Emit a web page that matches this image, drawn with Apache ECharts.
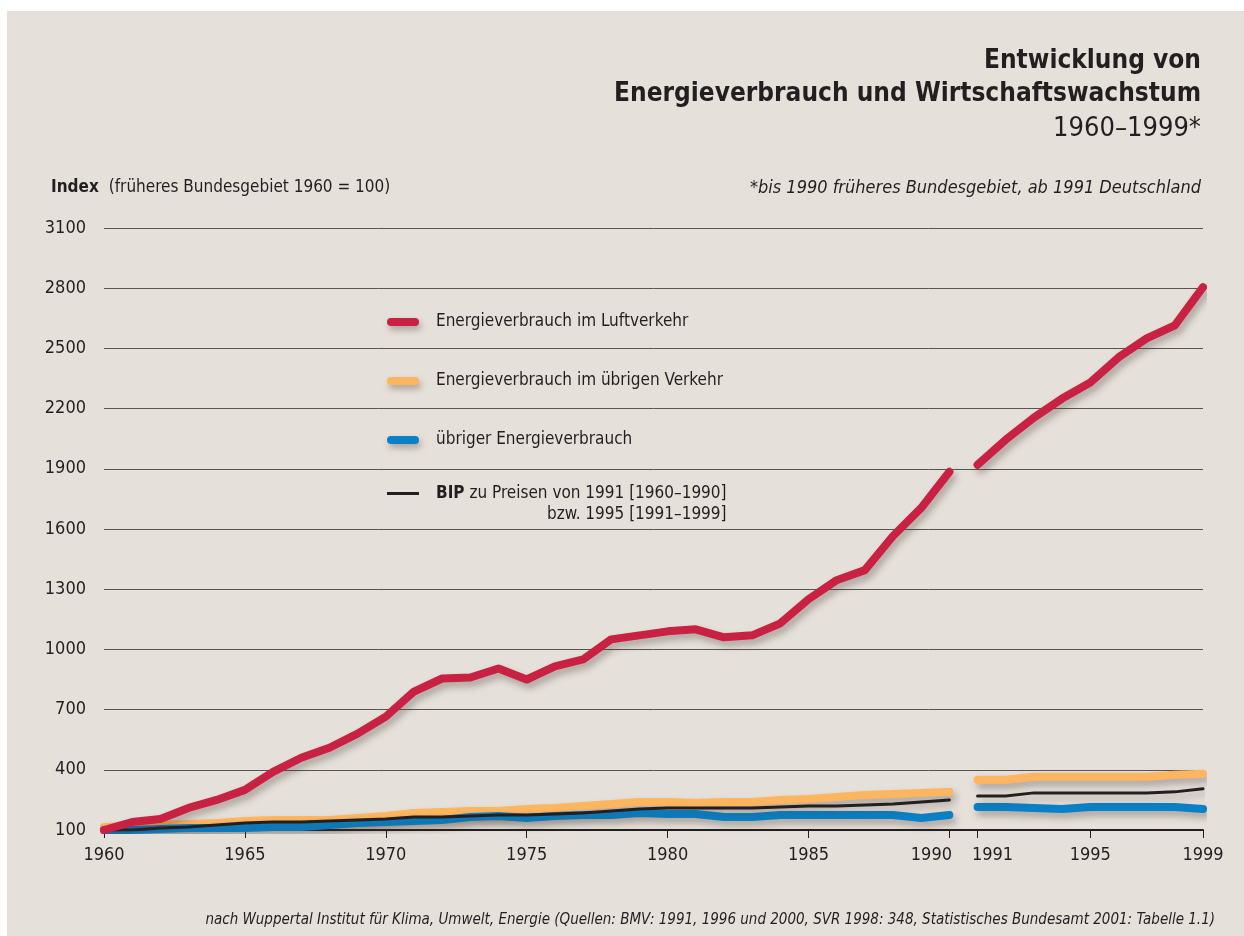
<!DOCTYPE html>
<html>
<head>
<meta charset="utf-8">
<script src="https://cdn.jsdelivr.net/npm/echarts@6/dist/echarts.min.js"></script>
<style>
html, body { margin: 0; padding: 0; background: #ffffff; }
#chart { width: 1244px; height: 936px; }
</style>
</head>
<body>
<div id="chart"></div>
<script>
// Jahre 1960-1990 (früheres Bundesgebiet) und 1991-1999 (Deutschland)
var yearsWest = [1960,1961,1962,1963,1964,1965,1966,1967,1968,1969,1970,1971,1972,1973,1974,1975,1976,1977,1978,1979,1980,1981,1982,1983,1984,1985,1986,1987,1988,1989,1990];
var yearsGer = [1991,1992,1993,1994,1995,1996,1997,1998,1999];

// Energieverbrauch im Luftverkehr
var luftWest = [100,140,155,210,250,300,390,460,510,580,665,790,855,860,905,850,915,950,1050,1070,1090,1100,1060,1070,1130,1250,1345,1395,1565,1705,1885];
var luftGer = [1920,2045,2155,2250,2330,2455,2550,2615,2805];

// Energieverbrauch im übrigen Verkehr
var verkehrWest = [115,120,125,130,135,145,150,150,150,160,170,185,190,195,195,205,210,220,230,240,240,235,240,240,250,255,265,275,280,285,290];
var verkehrGer = [350,350,365,365,365,365,365,375,380];

// übriger Energieverbrauch
var uebrigWest = [100,100,105,110,110,110,115,115,125,135,140,145,150,165,170,160,170,175,175,185,180,180,165,165,175,175,175,175,175,160,175];
var uebrigGer = [215,215,210,205,215,215,215,215,205];

// BIP
var bipWest = [100,100,110,115,125,135,140,140,145,150,155,165,165,170,175,175,180,185,195,205,210,210,210,210,215,220,220,225,230,240,250];
var bipGer = [270,270,285,285,285,285,285,290,305];

var xTicks = [1960,1965,1970,1975,1980,1985,1990,1991,1995,1999];

var FONT = '"Liberation Sans Narrow", "DejaVu Sans Condensed", sans-serif';
var INK = '#231f20';

function pairs(xs, ys) {
    var out = [];
    for (var i = 0; i < xs.length; i++) {
        out.push([xs[i], ys[i]]);
    }
    return out;
}

function lineSeries(name, color, width, xs, ys, z) {
    return {
        name: name,
        type: 'line',
        data: pairs(xs, ys),
        showSymbol: false,
        symbol: 'none',
        z: z,
        itemStyle: { color: color },
        lineStyle: {
            color: color,
            width: width,
            cap: 'round',
            join: 'round',
            shadowColor: 'rgba(60,50,40,0.35)',
            shadowBlur: 7,
            shadowOffsetX: 3,
            shadowOffsetY: 5
        },
        emphasis: { disabled: true },
        silent: true
    };
}

var myChart = echarts.init(document.getElementById('chart'));

var option = {
    backgroundColor: '#ffffff',
    animation: false,
    graphic: [{
        type: 'rect',
        z: -10,
        shape: { x: 7, y: 11, width: 1237, height: 925 },
        style: { fill: '#e6e0da' }
    }],
    title: [
        {
            right: 38,
            top: 40,
            text: '{b|Entwicklung von}\n{b|Energieverbrauch und Wirtschaftswachstum}\n{n|1960–1999*}',
            textStyle: {
                rich: {
                    b: { fontFamily: FONT, fontSize: 26, fontWeight: 'bold', color: INK, lineHeight: 33, align: 'right' },
                    n: { fontFamily: FONT, fontSize: 27, fontWeight: 'normal', color: INK, lineHeight: 36, align: 'right' }
                }
            }
        },
        {
            left: 46,
            top: 174,
            text: '{b|Index}  {n|(früheres Bundesgebiet 1960 = 100)}',
            textStyle: {
                rich: {
                    b: { fontFamily: FONT, fontSize: 17, fontWeight: 'bold', color: INK },
                    n: { fontFamily: FONT, fontSize: 17, fontWeight: 'normal', color: INK }
                }
            }
        },
        {
            right: 38,
            top: 174,
            text: '*bis 1990 früheres Bundesgebiet, ab 1991 Deutschland',
            textStyle: { fontFamily: FONT, fontSize: 18, fontStyle: 'italic', fontWeight: 'normal', color: INK }
        },
        {
            right: 24,
            top: 908,
            text: 'nach Wuppertal Institut für Klima, Umwelt, Energie (Quellen: BMV: 1991, 1996 und 2000, SVR 1998: 348, Statistisches Bundesamt 2001: Tabelle 1.1)',
            textStyle: { fontFamily: FONT, fontSize: 15, fontStyle: 'italic', fontWeight: 'normal', color: INK }
        }
    ],
    legend: [
        {
            orient: 'vertical',
            left: 382,
            top: 307,
            itemWidth: 32,
            itemHeight: 8,
            itemGap: 39,
            selectedMode: false,
            icon: 'path://M4,0 H28 A4,4 0 0 1 28,8 H4 A4,4 0 0 1 4,0 Z',
            itemStyle: { shadowColor: 'rgba(60,50,40,0.35)', shadowBlur: 6, shadowOffsetX: 2, shadowOffsetY: 4 },
            textStyle: { fontFamily: FONT, fontSize: 17, color: INK, lineHeight: 20, padding: [0, 0, 0, 12] },
            data: ['Energieverbrauch im Luftverkehr', 'Energieverbrauch im übrigen Verkehr', 'übriger Energieverbrauch']
        },
        {
            orient: 'vertical',
            left: 382,
            top: 459,
            itemWidth: 32,
            itemHeight: 8,
            selectedMode: false,
            icon: 'path://M0,0 H32 V3 H0 Z',
            textStyle: {
                padding: [0, 0, 0, 12],
                rich: {
                    e: { fontFamily: FONT, fontSize: 17, lineHeight: 21 },
                    b: { fontFamily: FONT, fontSize: 17, fontWeight: 'bold', color: INK, lineHeight: 21 },
                    n: { fontFamily: FONT, fontSize: 17, color: INK, lineHeight: 21 },
                    r: { fontFamily: FONT, fontSize: 17, color: INK, lineHeight: 21, align: 'right' }
                }
            },
            formatter: function (name) {
                return '{e| }\n{b|BIP}{n| zu Preisen von 1991 [1960–1990]}\n{r|bzw. 1995 [1991–1999]}';
            },
            data: ['BIP']
        }
    ],
    grid: { left: 104, right: 41, top: 228, bottom: 106 },
    xAxis: {
        type: 'value',
        min: 1960,
        max: 1999,
        splitLine: { show: false },
        axisLine: { show: true, lineStyle: { color: INK, width: 2 } },
        axisTick: {
            show: true,
            length: 8,
            customValues: xTicks,
            lineStyle: { color: INK, width: 1 }
        },
        axisLabel: {
            customValues: xTicks,
            margin: 16,
            fontFamily: FONT,
            fontSize: 18,
            color: INK,
            formatter: function (v) {
                if (v === 1990) return '{l|1990}';
                if (v === 1991) return '{r|1991}';
                return String(v);
            },
            rich: {
                l: { fontFamily: FONT, fontSize: 18, color: INK, padding: [0, 36, 0, 0] },
                r: { fontFamily: FONT, fontSize: 18, color: INK, padding: [0, 0, 0, 30] }
            }
        }
    },
    yAxis: {
        type: 'value',
        min: 100,
        max: 3100,
        interval: 300,
        axisLine: { show: false },
        axisTick: { show: false },
        axisLabel: {
            margin: 18,
            fontFamily: FONT,
            fontSize: 18,
            color: INK,
            formatter: function (v) { return String(v); }
        },
        splitLine: { lineStyle: { color: '#5a5552', width: 1 } }
    },
    series: [
        lineSeries('Energieverbrauch im übrigen Verkehr', '#fdb55f', 8, yearsWest, verkehrWest, 2),
        lineSeries('Energieverbrauch im übrigen Verkehr', '#fdb55f', 8, yearsGer, verkehrGer, 2),
        lineSeries('übriger Energieverbrauch', '#0a80c6', 8, yearsWest, uebrigWest, 3),
        lineSeries('übriger Energieverbrauch', '#0a80c6', 8, yearsGer, uebrigGer, 3),
        lineSeries('BIP', '#231f20', 3, yearsWest, bipWest, 4),
        lineSeries('BIP', '#231f20', 3, yearsGer, bipGer, 4),
        lineSeries('Energieverbrauch im Luftverkehr', '#c92141', 8, yearsWest, luftWest, 5),
        lineSeries('Energieverbrauch im Luftverkehr', '#c92141', 8, yearsGer, luftGer, 5)
    ]
};

// dunkle Trennlinien im Bereich 1991-1999
option.series[5].markLine = {
    silent: true,
    symbol: 'none',
    label: { show: false },
    lineStyle: { color: INK, width: 3, type: 'solid' },
    data: [
        [{ coord: [1990.18, 1900] }, { coord: [1999.1, 1900] }],
        [{ coord: [1990.18, 400] }, { coord: [1999.1, 400] }]
    ]
};

myChart.setOption(option);
</script>
</body>
</html>
